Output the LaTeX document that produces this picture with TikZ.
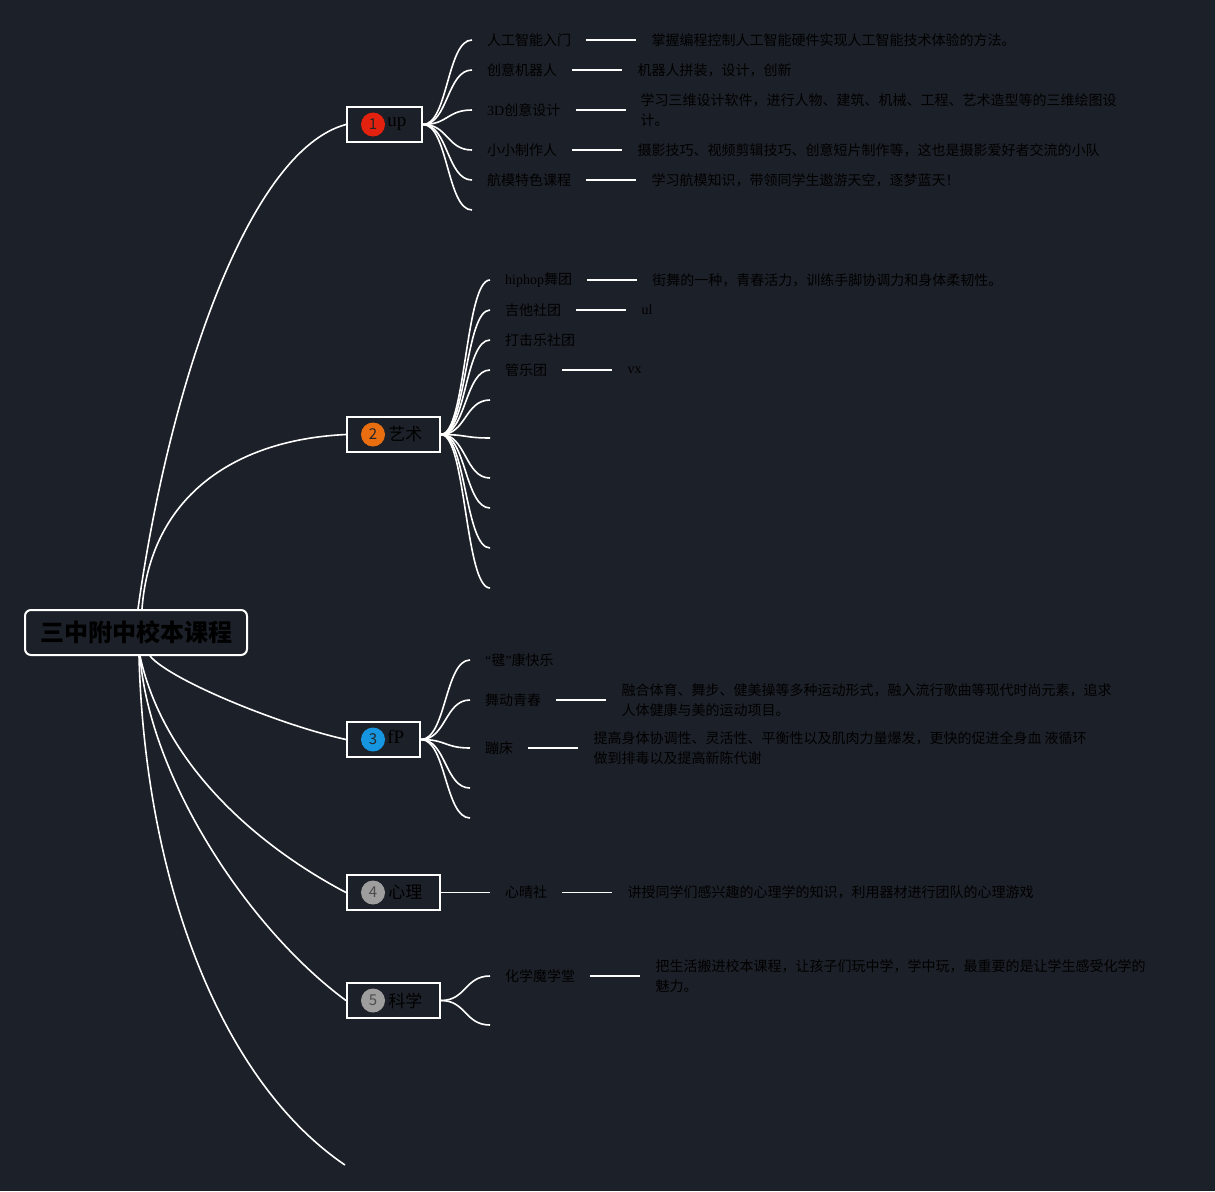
\documentclass[tikz,border=0pt]{standalone}
\usepackage{fontspec}
\setmainfont{Liberation Serif}
\newfontfamily\cjk{Noto Sans CJK SC}
\newfontfamily\lat{Liberation Serif}
\usetikzlibrary{positioning}
\definecolor{bgcol}{RGB}{28,32,40}
\definecolor{dotred}{RGB}{226,34,14}
\definecolor{dotorange}{RGB}{232,110,16}
\definecolor{dotblue}{RGB}{22,150,224}
\definecolor{dotgray}{RGB}{158,158,158}

\begin{document}
\begin{tikzpicture}[x=1pt,y=-1pt,
    branch/.style={draw=white, line width=1.6pt},
    leafline/.style={draw=white, line width=1.6pt},
    topic/.style={draw=white, line width=2pt, minimum height=35pt, inner sep=0pt},
    rootbox/.style={draw=white, line width=2pt, rounded corners=6pt,
        minimum width=222pt, minimum height=45pt, text=black,
        font=\cjk\bfseries\fontsize{24pt}{28pt}\selectfont},
    numdot/.style={circle, minimum size=24pt, inner sep=0pt, text=black!85,
        font=\cjk\fontsize{15pt}{15pt}\selectfont},
    topictxt/.style={inner sep=0pt, text=black, font=\cjk\fontsize{17pt}{20pt}\selectfont},
    leaf/.style={inner sep=0pt, text=black, font=\cjk\fontsize{14pt}{20pt}\selectfont},
    desc/.style={leaf, align=left}]
    \useasboundingbox (0,0) rectangle (1215,1191);
    \fill [bgcol] (0,0) rectangle (1215,1191);

    % root and topics
    \node [rootbox] (root) at (136,632.5) {三中附中校本课程};
    \node [topic, minimum width=75pt] (up) at (384.5,124.5) {};
    \node [topic, minimum width=93pt] (art) at (393.5,434.5) {};
    \node [topic, minimum width=73pt] (fp) at (383.5,739.5) {};
    \node [topic, minimum width=93pt] (mind) at (393.5,892.5) {};
    \node [topic, minimum width=93pt] (sci) at (393.5,1000.5) {};
    \coordinate (last) at (345,1165);

    \node [numdot, fill=dotred] (n1) at ([xshift=27pt]up.west) {1};
    \node [topictxt, right=2pt of n1] {\lat\fontsize{19pt}{20pt}\selectfont up};
    \node [numdot, fill=dotorange] (n2) at ([xshift=27pt]art.west) {2};
    \node [topictxt, right=3pt of n2] {艺术};
    \node [numdot, fill=dotblue] (n3) at ([xshift=27pt]fp.west) {3};
    \node [topictxt, right=2pt of n3, yshift=3pt] {\lat\fontsize{19pt}{20pt}\selectfont fP};
    \node [numdot, fill=dotgray, text=black!70] (n4) at ([xshift=27pt]mind.west) {4};
    \node [topictxt, right=3pt of n4] {心理};
    \node [numdot, fill=dotgray, text=black!70] (n5) at ([xshift=27pt]sci.west) {5};
    \node [topictxt, right=3pt of n5] {科学};

    \draw [branch] ([xshift=2pt]root.north) .. controls (170,380) and (250,150) .. (up.west);
    \draw [branch] ([xshift=6pt]root.north) .. controls (150,500) and (230,440) .. (art.west);
    \draw [branch] ([xshift=14pt]root.south) .. controls (170,680) and (280,725) .. (fp.west);
    \draw [branch] ([xshift=4pt]root.south) .. controls (165,770) and (265,850) .. (mind.west);
    \draw [branch] ([xshift=4pt]root.south) .. controls (150,780) and (250,930) .. (sci.west);
    \draw [branch] ([xshift=3pt]root.south) .. controls (145,880) and (220,1080) .. (last);

    % up
    \coordinate (e11) at (472,40);
    \coordinate (e12) at (472,70);
    \coordinate (e13) at (472,110);
    \coordinate (e14) at (472,150);
    \coordinate (e15) at (472,180);
    \coordinate (e16) at (472,210);
    \draw [branch] (up.east) .. controls +(25,0) and +(-25,0) .. (e11);
    \draw [branch] (up.east) .. controls +(25,0) and +(-25,0) .. (e12);
    \draw [branch] (up.east) .. controls +(25,0) and +(-25,0) .. (e13);
    \draw [branch] (up.east) .. controls +(25,0) and +(-25,0) .. (e14);
    \draw [branch] (up.east) .. controls +(25,0) and +(-25,0) .. (e15);
    \draw [branch] (up.east) .. controls +(25,0) and +(-25,0) .. (e16);

    \node [leaf, right=15pt of e11] (ai) {人工智能入门};
    \node [desc, right=80pt of ai] (aid) {掌握编程控制人工智能硬件实现人工智能技术体验的方法。};
    \draw [leafline] ([xshift=15pt]ai.east) -- ([xshift=-15pt]aid.west);
    \node [leaf, right=15pt of e12] (robot) {创意机器人};
    \node [desc, right=80pt of robot] (robotd) {机器人拼装，设计，创新};
    \draw [leafline] ([xshift=15pt]robot.east) -- ([xshift=-15pt]robotd.west);
    \node [leaf, right=15pt of e13] (cad) {{\lat 3D}创意设计};
    \node [desc, right=80pt of cad] (cadd) {学习三维设计软件，进行人物、建筑、机械、工程、艺术造型等的三维绘图设\\计。};
    \draw [leafline] ([xshift=15pt]cad.east) -- ([xshift=-15pt]cadd.west);
    \node [leaf, right=15pt of e14] (maker) {小小制作人};
    \node [desc, right=80pt of maker] (makerd) {摄影技巧、视频剪辑技巧、创意短片制作等，这也是摄影爱好者交流的小队};
    \draw [leafline] ([xshift=15pt]maker.east) -- ([xshift=-15pt]makerd.west);
    \node [leaf, right=15pt of e15] (plane) {航模特色课程};
    \node [desc, right=80pt of plane] (planed) {学习航模知识，带领同学生遨游天空，逐梦蓝天！};
    \draw [leafline] ([xshift=15pt]plane.east) -- ([xshift=-15pt]planed.west);

    % art
    \coordinate (e21) at (490,280);
    \coordinate (e22) at (490,310);
    \coordinate (e23) at (490,340);
    \coordinate (e24) at (490,370);
    \coordinate (e25) at (490,400);
    \coordinate (e26) at (490,438);
    \coordinate (e27) at (490,478);
    \coordinate (e28) at (490,508);
    \coordinate (e29) at (490,548);
    \coordinate (e210) at (490,588);
    \draw [branch] (art.east) .. controls +(25,0) and +(-25,0) .. (e21);
    \draw [branch] (art.east) .. controls +(25,0) and +(-25,0) .. (e22);
    \draw [branch] (art.east) .. controls +(25,0) and +(-25,0) .. (e23);
    \draw [branch] (art.east) .. controls +(25,0) and +(-25,0) .. (e24);
    \draw [branch] (art.east) .. controls +(25,0) and +(-25,0) .. (e25);
    \draw [branch] (art.east) .. controls +(25,0) and +(-25,0) .. (e26);
    \draw [branch] (art.east) .. controls +(25,0) and +(-25,0) .. (e27);
    \draw [branch] (art.east) .. controls +(25,0) and +(-25,0) .. (e28);
    \draw [branch] (art.east) .. controls +(25,0) and +(-25,0) .. (e29);
    \draw [branch] (art.east) .. controls +(25,0) and +(-25,0) .. (e210);

    \node [leaf, right=15pt of e21] (dance) {{\lat hiphop}舞团};
    \node [desc, right=80pt of dance] (danced) {街舞的一种，青春活力，训练手脚协调力和身体柔韧性。};
    \draw [leafline] ([xshift=15pt]dance.east) -- ([xshift=-15pt]danced.west);
    \node [leaf, right=15pt of e22] (guitar) {吉他社团};
    \node [desc, right=80pt of guitar] (guitard) {\lat ul};
    \draw [leafline] ([xshift=15pt]guitar.east) -- ([xshift=-15pt]guitard.west);
    \node [leaf, right=15pt of e23] (drum) {打击乐社团};
    \node [leaf, right=15pt of e24] (band) {管乐团};
    \node [desc, right=80pt of band] (bandd) {\lat vx};
    \draw [leafline] ([xshift=15pt]band.east) -- ([xshift=-15pt]bandd.west);

    % fP
    \coordinate (e31) at (470,660);
    \coordinate (e32) at (470,700);
    \coordinate (e33) at (470,748);
    \coordinate (e34) at (470,788);
    \coordinate (e35) at (470,818);
    \draw [branch] (fp.east) .. controls +(25,0) and +(-25,0) .. (e31);
    \draw [branch] (fp.east) .. controls +(25,0) and +(-25,0) .. (e32);
    \draw [branch] (fp.east) .. controls +(25,0) and +(-25,0) .. (e33);
    \draw [branch] (fp.east) .. controls +(25,0) and +(-25,0) .. (e34);
    \draw [branch] (fp.east) .. controls +(25,0) and +(-25,0) .. (e35);

    \node [leaf, right=15pt of e31] (jianzi) {{\lat “}毽{\lat ”}康快乐};
    \node [leaf, right=15pt of e32] (youth) {舞动青春};
    \node [desc, right=80pt of youth] (youthd) {融合体育、舞步、健美操等多种运动形式，融入流行歌曲等现代时尚元素，追求\\人体健康与美的运动项目。};
    \draw [leafline] ([xshift=15pt]youth.east) -- ([xshift=-15pt]youthd.west);
    \node [leaf, right=15pt of e33] (bed) {蹦床};
    \node [desc, right=80pt of bed] (bedd) {提高身体协调性、灵活性、平衡性以及肌肉力量爆发，更快的促进全身血 液循环\\做到排毒以及提高新陈代谢};
    \draw [leafline] ([xshift=15pt]bed.east) -- ([xshift=-15pt]bedd.west);

    % mind
    \coordinate (e41) at (490,892.5);
    \draw [branch] (mind.east) -- (e41);
    \node [leaf, right=15pt of e41] (heart) {心晴社};
    \node [desc, right=80pt of heart] (heartd) {讲授同学们感兴趣的心理学的知识，利用器材进行团队的心理游戏};
    \draw [leafline] ([xshift=15pt]heart.east) -- ([xshift=-15pt]heartd.west);

    % sci
    \coordinate (e51) at (490,976);
    \coordinate (e52) at (490,1025);
    \draw [branch] (sci.east) .. controls +(25,0) and +(-25,0) .. (e51);
    \draw [branch] (sci.east) .. controls +(25,0) and +(-25,0) .. (e52);
    \node [leaf, right=15pt of e51] (chem) {化学魔学堂};
    \node [desc, right=80pt of chem] (chemd) {把生活搬进校本课程，让孩子们玩中学，学中玩，最重要的是让学生感受化学的\\魅力。};
    \draw [leafline] ([xshift=15pt]chem.east) -- ([xshift=-15pt]chemd.west);
\end{tikzpicture}
\end{document}
